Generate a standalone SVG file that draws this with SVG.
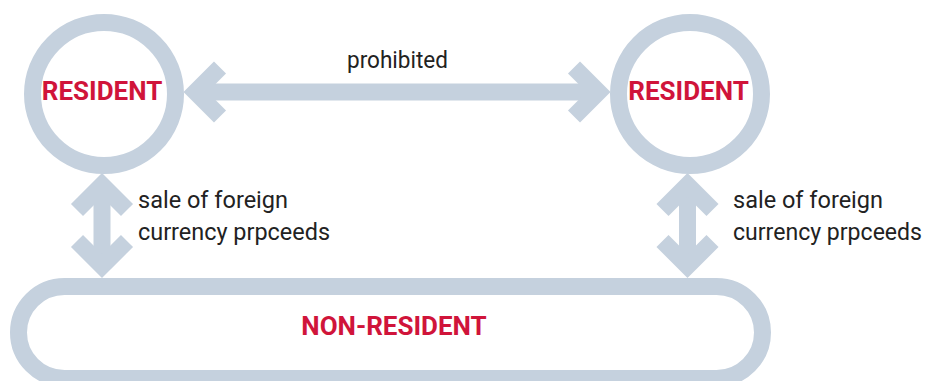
<svg xmlns="http://www.w3.org/2000/svg" width="928" height="381" viewBox="0 0 928 381">
  <style>
    .ring { fill: none; stroke: #c5d1de; stroke-width: 17; }
    .conn { fill: none; stroke: #c5d1de; stroke-width: 17; stroke-linejoin: miter; stroke-miterlimit: 10; }
    .nodelabel { font-family: Roboto, "Liberation Sans", sans-serif; font-weight: bold; font-size: 26px; fill: #d0143a; text-anchor: middle; }
    .edgelabel { font-family: Roboto, "Liberation Sans", sans-serif; font-size: 23.5px; fill: #222222; }
  </style>
  <rect width="928" height="381" fill="#ffffff"/>

  <g id="connectors">
    <g id="edge-prohibited">
      <line class="conn" x1="195" y1="92" x2="599" y2="92"/>
      <polyline class="conn" points="220,67.5 195.5,92 220,116.5"/>
      <polyline class="conn" points="574,67.5 598.5,92 574,116.5"/>
      <text class="edgelabel" x="397.5" y="68" text-anchor="middle" textLength="101" lengthAdjust="spacingAndGlyphs">prohibited</text>
    </g>
    <g id="edge-left">
      <line class="conn" x1="102" y1="185" x2="102" y2="266"/>
      <polyline class="conn" points="77,210 102,185 127,210"/>
      <polyline class="conn" points="77,241 102,266 127,241"/>
      <text class="edgelabel" x="138" y="208" textLength="150" lengthAdjust="spacingAndGlyphs">sale of foreign</text>
      <text class="edgelabel" x="138" y="240" textLength="192" lengthAdjust="spacingAndGlyphs">currency prpceeds</text>
    </g>
    <g id="edge-right">
      <line class="conn" x1="687.5" y1="185" x2="687.5" y2="266"/>
      <polyline class="conn" points="662.5,210 687.5,185 712.5,210"/>
      <polyline class="conn" points="662.5,241 687.5,266 712.5,241"/>
      <text class="edgelabel" x="733" y="208" textLength="150" lengthAdjust="spacingAndGlyphs">sale of foreign</text>
      <text class="edgelabel" x="733" y="240" textLength="189" lengthAdjust="spacingAndGlyphs">currency prpceeds</text>
    </g>
  </g>

  <g id="resident-left">
    <circle class="ring" cx="104" cy="94" r="71.5"/>
    <text class="nodelabel" x="102" y="100">RESIDENT</text>
  </g>
  <g id="resident-right">
    <circle class="ring" cx="690" cy="94" r="71.5"/>
    <text class="nodelabel" x="688.5" y="100">RESIDENT</text>
  </g>
  <g id="non-resident">
    <rect class="ring" x="18.5" y="286.5" width="744" height="92" rx="46" ry="46"/>
    <text class="nodelabel" x="394" y="335">NON-RESIDENT</text>
  </g>
</svg>
